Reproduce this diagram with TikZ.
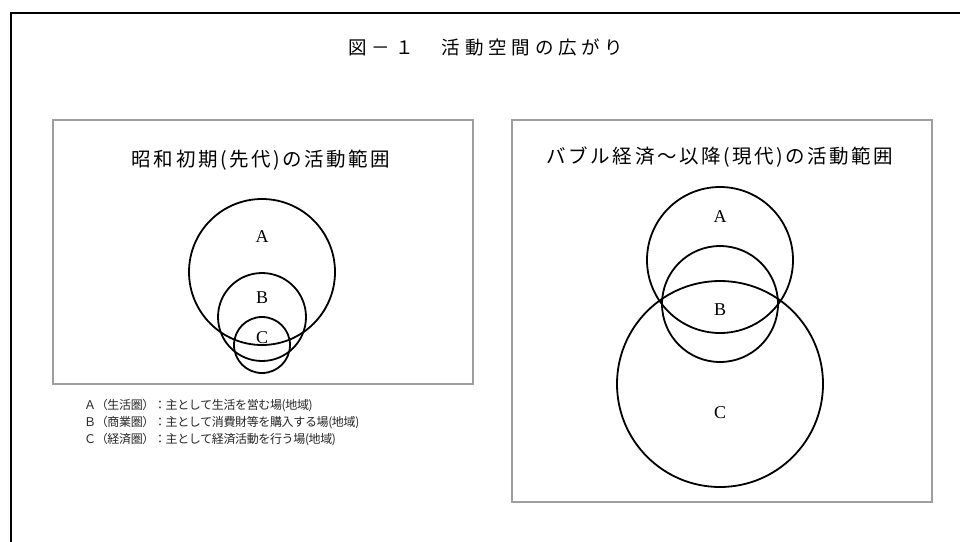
\documentclass[tikz,border=0pt]{standalone}
\usepackage{fontspec}
\newfontfamily\jp[LetterSpace=-3]{Noto Sans CJK JP}
\newfontfamily\jptitle[LetterSpace=26]{Noto Sans CJK JP}
\newfontfamily\jpsub[LetterSpace=13]{Noto Sans CJK JP}
\newfontfamily\lserif{Liberation Serif}
\begin{document}
\begin{tikzpicture}[x=1pt,y=-1pt,
  frame/.style={draw=black,line width=2.2pt},
  panel/.style={draw=black!38,line width=1.6pt},
  ring/.style={draw=black,line width=1.8pt,circle,inner sep=0pt},
  letter/.style={font=\lserif\fontsize{18}{18}\selectfont,inner sep=0pt},
  maintitle/.style={font=\jptitle\fontsize{18.5}{18.5}\selectfont,inner sep=0pt},
  subtitle/.style={font=\jpsub\fontsize{19.5}{19.5}\selectfont,inner sep=0pt},
  legend/.style={font=\jp\fontsize{12}{12}\selectfont,text=black!85,inner sep=0pt,anchor=west}]
\useasboundingbox (0,0) rectangle (960,541);
\clip (0,0) rectangle (960,541);
\fill[white] (0,0) rectangle (960,541);
\draw[frame] (11,560) -- (11,13) -- (980,13);
\node[maintitle] (title) at (486,47) {図－１　活動空間の広がり};
% left panel
\draw[panel] (53,120) rectangle (473,384);
\node[subtitle] (ltitle) at (261,160) {昭和初期(先代)の活動範囲};
\node[ring,minimum size=146pt] (lA) at (262,272) {};
\node[ring,minimum size=88pt] (lB) at (262,317) {};
\node[ring,minimum size=56pt] (lC) at (262,345) {};
\node[letter] (lAt) at (262,237) {A};
\node[letter] (lBt) at (262,298) {B};
\node[letter] (lCt) at (262,338) {C};
% right panel
\draw[panel] (512,120) rectangle (932,502);
\node[subtitle] (rtitle) at (720,157) {バブル経済～以降(現代)の活動範囲};
\node[ring,minimum size=146pt] (rA) at (720,260) {};
\node[ring,minimum size=116pt] (rB) at (720,304) {};
\node[ring,minimum size=206pt] (rC) at (720,384) {};
\node[letter] (rAt) at (720,217) {A};
\node[letter] (rBt) at (720,310) {B};
\node[letter] (rCt) at (720,413) {C};
% legend
\node[legend] (legA) at (84,406) {Ａ（生活圏）：主として生活を営む場(地域)};
\node[legend] (legB) at (84,423) {Ｂ（商業圏）：主として消費財等を購入する場(地域)};
\node[legend] (legC) at (84,440) {Ｃ（経済圏）：主として経済活動を行う場(地域)};
\end{tikzpicture}
\end{document}
